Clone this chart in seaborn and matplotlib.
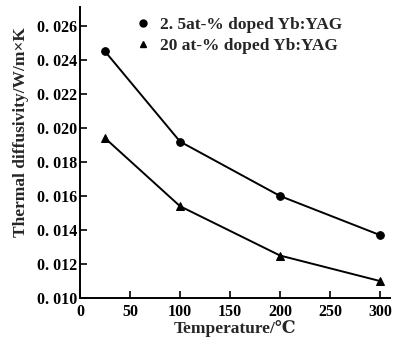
import pandas as pd
import matplotlib
matplotlib.use("Agg")
import matplotlib.pyplot as plt
import seaborn as sns
from matplotlib.lines import Line2D

# dados
temperatura = [25, 100, 200, 300]
difus_2_5 = [0.0245, 0.0192, 0.0160, 0.0137]
difus_20 = [0.0194, 0.0154, 0.0125, 0.0110]
rotulos = ["2. 5at-% doped Yb:YAG", "20 at-% doped Yb:YAG"]
yticks = [0.010, 0.012, 0.014, 0.016, 0.018, 0.020, 0.022, 0.024, 0.026]
xticks = [0, 50, 100, 150, 200, 250, 300]

sns.set_theme(style="ticks")
plt.rcParams['font.family'] = ['Liberation Serif', 'DejaVu Serif']
plt.rcParams['font.weight'] = 'bold'

df = pd.DataFrame({
    'temp': temperatura * 2,
    'valor': difus_2_5 + difus_20,
    'serie': [rotulos[0]] * 4 + [rotulos[1]] * 4,
})

fig = plt.figure(figsize=(4.19, 3.43), dpi=100)
ax = fig.add_axes([0.191, 0.131, 0.740, 0.848])

sns.lineplot(data=df, x='temp', y='valor', style='serie', markers=['o', '^'],
             dashes=False, color='black', linewidth=1.4, markersize=5.5,
             markeredgecolor='black', ax=ax, legend=False)

ax.set_xlim(0, 310)
ax.set_ylim(0.010, 0.0271)
ax.set_xticks(xticks)
ax.set_xticklabels([str(v) for v in xticks])
ax.set_yticks(yticks)
ax.set_yticklabels([f"{v:.3f}".replace('.', '. ') for v in yticks])
ax.tick_params(direction='in', length=5, width=1.2, labelsize=11.5, colors='black')
ax.tick_params(axis='y', pad=2)
ax.tick_params(axis='x', pad=4)

sns.despine(ax=ax)
for s in ['left', 'bottom']:
    ax.spines[s].set_linewidth(1.4)
    ax.spines[s].set_color('black')

ax.set_xlabel('Temperature/℃', fontsize=12.5, fontweight='bold', labelpad=0)
ax.set_ylabel('Thermal diffusivity/W/m×K', fontsize=12.5, fontweight='bold')
ax.yaxis.set_label_coords(-0.165, 0.57)

handles = [
    Line2D([], [], marker='o', linestyle='none', color='black', markersize=5),
    Line2D([], [], marker='^', linestyle='none', color='black', markersize=4),
]
ax.legend(handles, rotulos, loc='upper left', bbox_to_anchor=(0.125, 1.02),
          frameon=False, fontsize=12.5, handletextpad=0.5, labelspacing=0.25,
          handlelength=1.0)

plt.savefig('out.png', dpi=100)
plt.close('all')
